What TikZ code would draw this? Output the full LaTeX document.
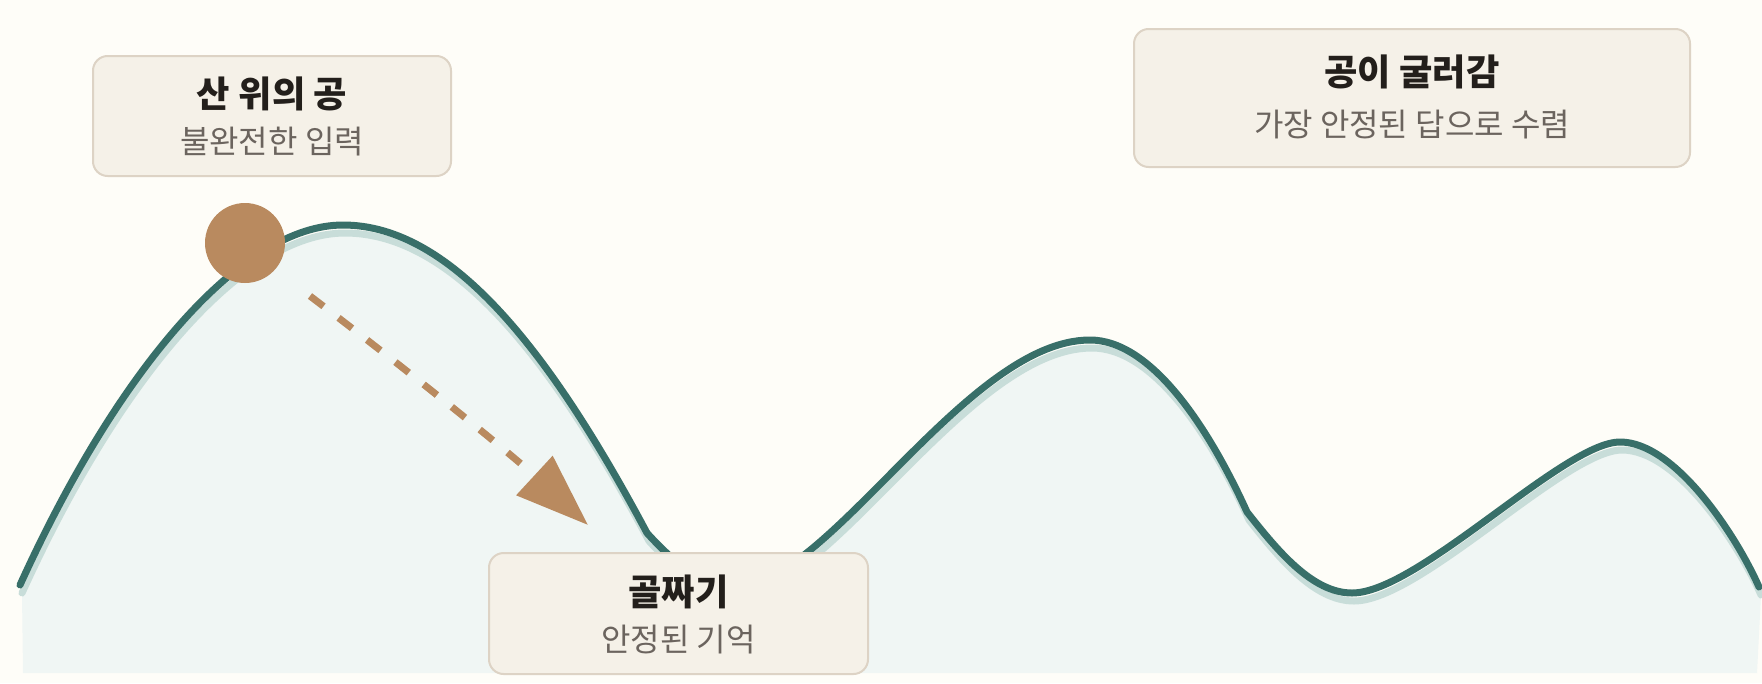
\documentclass[tikz,border=0pt]{standalone}
\usepackage{fontspec}
\newfontfamily\krfont{Noto Sans CJK KR}
\usetikzlibrary{arrows.meta}
\definecolor{bgcol}{HTML}{FEFDF8}
\definecolor{hillfill}{HTML}{F0F6F4}
\definecolor{hillshadow}{HTML}{C8DDD9}
\definecolor{hillline}{HTML}{386F69}
\definecolor{ballcol}{HTML}{B98A5F}
\definecolor{boxfill}{HTML}{F5F1E8}
\definecolor{boxline}{HTML}{DDD3C5}
\definecolor{titlecol}{HTML}{231F1B}
\definecolor{subcol}{HTML}{6B645E}
\def\hillpath{(20,585) .. controls (120,365) and (243,225) .. (343,225)
 .. controls (453,225) and (552,355) .. (647,533)
 .. controls (677,566) and (705,587) .. (735,587)
 .. controls (828,587) and (966,340) .. (1090,340)
 .. controls (1150,340) and (1207,424) .. (1247,512)
 .. controls (1277,550) and (1312,593) .. (1352,593)
 .. controls (1418,593) and (1564,442) .. (1620,442)
 .. controls (1675,442) and (1736,535) .. (1759,587)}
\begin{document}
\begin{tikzpicture}[x=0.75pt,y=-0.75pt,
  hillstroke/.style={draw=hillline, line width=5.25pt, line cap=round, line join=round},
  shadowstroke/.style={draw=hillshadow, line width=5.25pt, line cap=round, line join=round},
  infobox/.style={draw=boxline, fill=boxfill, line width=1.5pt, rounded corners=11pt, inner sep=0pt},
  titletext/.style={text=titlecol, font=\krfont\bfseries\fontsize{27.2pt}{32pt}\selectfont, inner sep=0pt},
  subtext/.style={text=subcol, font=\krfont\fontsize{24pt}{28pt}\selectfont, inner sep=0pt},
  rollarrow/.style={draw=ballcol, line width=5.25pt, dash pattern=on 12.75pt off 14.25pt, -{Triangle[length=54.75pt, width=39pt]}},
  ]
\fill[bgcol] (0,0) rectangle (1762,683);
\useasboundingbox (0,0) rectangle (1762,683);
% hill fill and shadow
\begin{scope}[shift={(2,8)}]
  \fill[hillfill] \hillpath -- (1755,665) -- (21,665) -- cycle;
  \draw[shadowstroke] \hillpath;
\end{scope}
% hill line
\draw[hillstroke] \hillpath;
% ball
\node[circle, fill=ballcol, minimum size=60pt, inner sep=0pt] (ball) at (245,243) {};
% rolling arrow
\coordinate (rollstart) at (310,296);
\coordinate (rollend) at (588,525);
\draw[rollarrow] (rollstart) .. controls (424.7,383.3) and (517.3,459.7) .. (rollend);
% boxes
\node[infobox, minimum width=268.5pt, minimum height=90pt] (topbox) at (272,116) {};
\node[titletext] (topboxtitle) at (272,93.5) {산 위의 공};
\node[subtext] (topboxsub) at (272,142) {불완전한 입력};
\node[infobox, minimum width=284.25pt, minimum height=90.75pt] (valleybox) at (678.5,613.5) {};
\node[titletext] (valleytitle) at (678.5,592) {골짜기};
\node[subtext] (valleysub) at (678.5,640) {안정된 기억};
\node[infobox, minimum width=417pt, minimum height=103.5pt] (rollbox) at (1412,98) {};
\node[titletext] (rolltitle) at (1412,72) {공이 굴러감};
\node[subtext] (rollsub) at (1412,125) {가장 안정된 답으로 수렴};
\end{tikzpicture}
\end{document}
